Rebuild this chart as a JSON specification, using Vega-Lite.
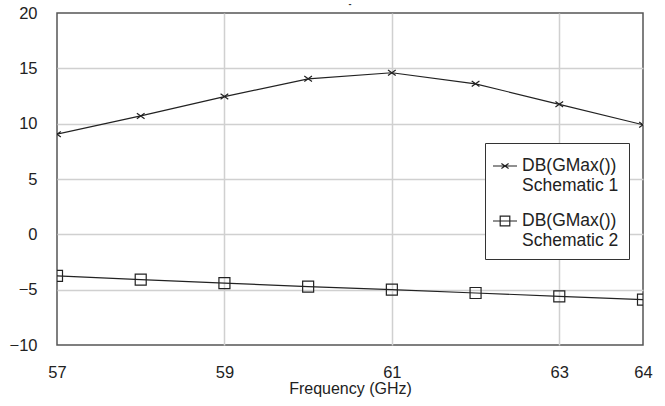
{
  "$schema": "https://vega.github.io/schema/vega-lite/v6.json",
  "width": 586,
  "height": 332,
  "autosize": {"type": "none"},
  "padding": {"left": 57, "top": 13, "right": 22, "bottom": 61},
  "background": "white",
  "title": {"text": "-", "fontSize": 9, "font": "Liberation Sans", "fontWeight": "bold", "offset": 0, "dy": 13, "baseline": "bottom", "color": "#333"},
  "data": {
    "values": [
      {"f": 57, "g": 9.05, "s": "S1"},
      {"f": 58, "g": 10.7, "s": "S1"},
      {"f": 59, "g": 12.45, "s": "S1"},
      {"f": 60, "g": 14.05, "s": "S1"},
      {"f": 61, "g": 14.6, "s": "S1"},
      {"f": 62, "g": 13.6, "s": "S1"},
      {"f": 63, "g": 11.75, "s": "S1"},
      {"f": 64, "g": 9.9, "s": "S1"},
      {"f": 57, "g": -3.75, "s": "S2"},
      {"f": 58, "g": -4.1, "s": "S2"},
      {"f": 59, "g": -4.4, "s": "S2"},
      {"f": 60, "g": -4.72, "s": "S2"},
      {"f": 61, "g": -5.0, "s": "S2"},
      {"f": 62, "g": -5.3, "s": "S2"},
      {"f": 63, "g": -5.6, "s": "S2"},
      {"f": 64, "g": -5.9, "s": "S2"}
    ]
  },
  "encoding": {
    "x": {
      "field": "f", "type": "quantitative",
      "scale": {"domain": [57, 64], "nice": false, "zero": false},
      "axis": {
        "values": [57, 59, 61, 63, 64],
        "title": "Frequency (GHz)",
        "domain": false, "ticks": false,
        "labelFlush": false, "labelOverlap": false,
        "labelPadding": 19,
        "labelFontSize": 16.5, "labelFont": "Liberation Sans", "labelColor": "#222",
        "titleFont": "Liberation Sans", "titleFontSize": 16, "titleFontWeight": "normal", "titleColor": "#222",
        "titlePadding": 0,
        "gridColor": {"condition": {"test": "datum.value == 57 || datum.value == 64", "value": "transparent"}, "value": "#d0d0d0"},
        "gridWidth": 1.5
      }
    },
    "y": {
      "field": "g", "type": "quantitative",
      "scale": {"domain": [-10, 20], "nice": false, "zero": false},
      "axis": {
        "values": [-10, -5, 0, 5, 10, 15, 20],
        "title": null,
        "domain": false, "ticks": false,
        "labelFlush": false, "labelOverlap": false,
        "labelPadding": 20,
        "labelFontSize": 16.5, "labelFont": "Liberation Sans", "labelColor": "#222",
        "gridColor": {"condition": {"test": "datum.value == -10 || datum.value == 20", "value": "transparent"}, "value": "#d0d0d0"},
        "gridWidth": 1.5
      }
    }
  },
  "layer": [
    {
      "mark": {"type": "line", "color": "#222", "strokeWidth": 1.2, "clip": true},
      "encoding": {"detail": {"field": "s", "type": "nominal"}}
    },
    {
      "mark": {"type": "point", "filled": false, "stroke": "#222", "strokeWidth": 1.2, "opacity": 1, "size": 121, "clip": true},
      "encoding": {
        "shape": {
          "field": "s", "type": "nominal",
          "scale": {"domain": ["S1", "S2"], "range": ["M-0.7,-0.5L0.7,0.5M-0.7,0.5L0.7,-0.5", "M-1,-1H1V1H-1Z"]},
          "legend": null
        }
      }
    },
    {
      "mark": {"type": "point", "filled": false, "stroke": "#222", "strokeWidth": 1.2, "opacity": 0, "size": 121},
      "encoding": {
        "shape": {
          "field": "s", "type": "nominal",
          "scale": {"domain": ["S1", "S2"], "range": ["M-1,0L1,0M-0.3,-0.2L0.3,0.2M-0.3,0.2L0.3,-0.2", "M-1,0L1,0M-0.4,-0.4H0.4V0.4H-0.4Z"]},
          "legend": {
            "orient": "none", "legendX": 428, "legendY": 130,
            "title": null,
            "fillColor": "white", "strokeColor": "#333",
            "padding": 10,
            "symbolSize": 576,
            "symbolOffset": -3,
            "symbolOpacity": 1,
            "symbolStrokeColor": "#222", "symbolStrokeWidth": 1.2, "symbolFillColor": "transparent",
            "labelFont": "Liberation Sans", "labelFontSize": 17.5, "labelColor": "#222",
            "labelExpr": "datum.value == 'S1' ? ['DB(GMax())', 'Schematic 1'] : ['DB(GMax())', 'Schematic 2']",
            "labelLineHeight": 20,
            "labelOffset": 4,
            "rowPadding": 14
          }
        }
      }
    }
  ],
  "resolve": {"scale": {"shape": "independent"}},
  "config": {
    "view": {"stroke": "#555", "strokeWidth": 1.5}
  }
}
